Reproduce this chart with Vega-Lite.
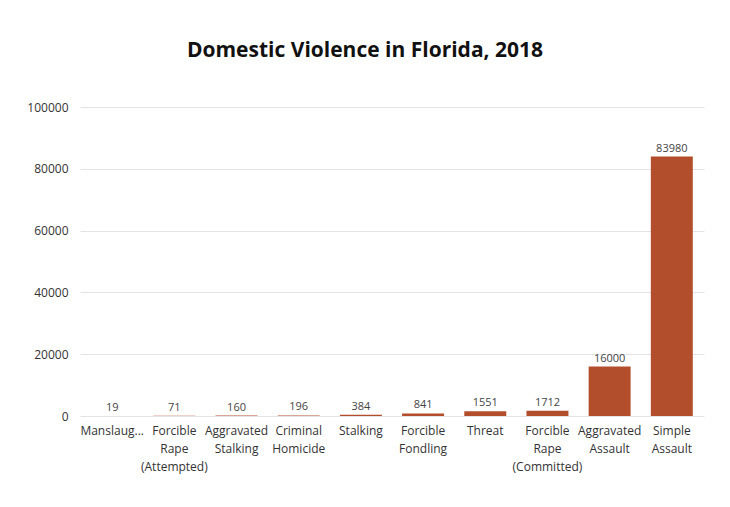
{
  "$schema": "https://vega.github.io/schema/vega-lite/v6.json",
  "width": 624,
  "height": 309,
  "autosize": {"type": "none"},
  "padding": {"left": 80, "top": 107, "right": 26, "bottom": 91},
  "background": "white",
  "title": {
    "text": "Domestic Violence in Florida, 2018",
    "font": "Open Sans",
    "fontSize": 21,
    "fontWeight": "bold",
    "color": "#111111",
    "anchor": "middle",
    "offset": 40,
    "dx": -27
  },
  "data": {
    "values": [
      {"crime": "Manslaug...", "count": 19},
      {"crime": "Forcible|Rape|(Attempted)", "count": 71},
      {"crime": "Aggravated|Stalking", "count": 160},
      {"crime": "Criminal|Homicide", "count": 196},
      {"crime": "Stalking", "count": 384},
      {"crime": "Forcible|Fondling", "count": 841},
      {"crime": "Threat", "count": 1551},
      {"crime": "Forcible|Rape|(Committed)", "count": 1712},
      {"crime": "Aggravated|Assault", "count": 16000},
      {"crime": "Simple|Assault", "count": 83980}
    ]
  },
  "encoding": {
    "x": {
      "field": "crime",
      "type": "nominal",
      "sort": null,
      "scale": {"paddingInner": 0.325, "paddingOuter": 0.18},
      "axis": {
        "title": null,
        "labelAngle": 0,
        "labelExpr": "split(datum.value, '|')",
        "labelFont": "Open Sans",
        "labelFontSize": 12,
        "labelColor": "#333333",
        "labelLineHeight": 18,
        "labelPadding": 9,
        "ticks": false,
        "domain": false
      }
    },
    "y": {
      "field": "count",
      "type": "quantitative",
      "scale": {"domain": [0, 100000]},
      "axis": {
        "title": null,
        "values": [0, 20000, 40000, 60000, 80000, 100000],
        "labelFont": "Open Sans",
        "labelFontSize": 12,
        "labelColor": "#333333",
        "labelPadding": 12,
        "ticks": false,
        "domain": false,
        "grid": true,
        "gridColor": "#e3e3e3",
        "format": "d"
      }
    }
  },
  "layer": [
    {"mark": {"type": "bar", "color": "#b34e2c"}},
    {
      "mark": {"type": "text", "dy": -8, "font": "Open Sans", "fontSize": 11, "color": "#444444"},
      "encoding": {"text": {"field": "count", "type": "quantitative", "format": "d"}}
    }
  ],
  "config": {"view": {"stroke": null}}
}
